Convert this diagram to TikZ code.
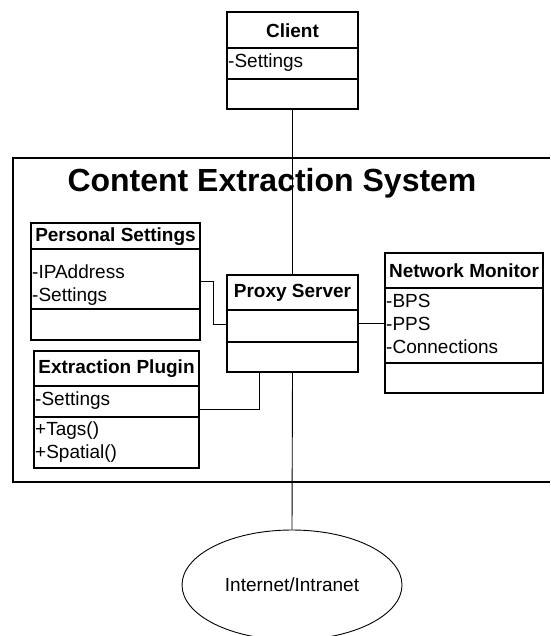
\documentclass[tikz,border=0pt]{standalone}
\usepackage{fontspec}
\setmainfont{Liberation Sans}
\usetikzlibrary{shapes.geometric}
\tikzset{
  box/.style={draw, line width=1.3pt, rectangle, inner sep=0pt},
  divider/.style={line width=1.3pt},
  conn/.style={line width=0.9pt},
  head/.style={inner sep=0pt, anchor=center, font=\bfseries\fontsize{19}{22}\selectfont},
  attr/.style={inner sep=0pt, anchor=base west, font=\fontsize{19}{22}\selectfont},
}
\begin{document}
\begin{tikzpicture}[x=1pt,y=-1pt]
\useasboundingbox (0,0) rectangle (550,636);
% system frame (right side runs off the page)
\draw[line width=1.3pt] (550,158) -- (13,158) -- (13,482) -- (550,482);
\node[inner sep=0pt, anchor=base, font=\bfseries\fontsize{32}{38}\selectfont] (title) at (272,192) {Content Extraction System};

% Client
\node[box, minimum width=131pt, minimum height=97pt] (client) at (292.5,60.5) {};
\draw[divider] (227,48) -- (358,48) (227,79) -- (358,79);
\node[head] (clienth) at (292.5,31) {Client};
\node[attr] (clienta) at (228,68) {-Settings};

% Personal Settings
\node[box, minimum width=169pt, minimum height=117pt] (ps) at (115.5,281.5) {};
\draw[divider] (31,249) -- (200,249) (31,309) -- (200,309);
\node[head] (psh) at (115.5,237) {Personal Settings};
\node[attr] (psa1) at (32,278) {-IPAddress};
\node[attr] (psa2) at (32,301) {-Settings};

% Proxy Server
\node[box, minimum width=131pt, minimum height=97pt] (proxy) at (292.5,323.5) {};
\draw[divider] (227,310) -- (358,310) (227,342) -- (358,342);
\node[head] (proxyh) at (292.5,293) {Proxy Server};

% Extraction Plugin
\node[box, minimum width=165pt, minimum height=117pt] (ep) at (116.5,409.5) {};
\draw[divider] (34,386) -- (199,386) (34,417) -- (199,417);
\node[head] (eph) at (116.5,369) {Extraction Plugin};
\node[attr] (epa1) at (35,405) {-Settings};
\node[attr] (epo1) at (35,435) {+Tags()};
\node[attr] (epo2) at (35,458) {+Spatial()};

% Network Monitor
\node[box, minimum width=158pt, minimum height=140pt] (nm) at (464,323) {};
\draw[divider] (385,288) -- (543,288) (385,363) -- (543,363);
\node[head] (nmh) at (464,271) {Network Monitor};
\node[attr] (nma1) at (386,307) {-BPS};
\node[attr] (nma2) at (386,330) {-PPS};
\node[attr] (nma3) at (386,353) {-Connections};

% Internet (bottom runs off the page)
\node[draw, ellipse, line width=0.9pt, minimum width=220pt, minimum height=110pt, inner sep=0pt,
      font=\fontsize{19}{22}\selectfont] (inet) at (292,585) {Internet/Intranet};

% helper coordinates
\coordinate (y281) at (0,281);
\coordinate (y324) at (0,324);
\coordinate (y323) at (0,323);
\coordinate (y409) at (0,409);
\coordinate (x259) at (259,0);

% connectors
\draw[conn] (client.south) -- (proxy.north);
\draw[conn] (proxy.south) -- (inet.north);
\draw[conn] (ps.east |- y281) -- ++(13,0) |- (proxy.west |- y324);
\draw[conn] (proxy.east |- y323) -- (nm.west |- y323);
\draw[conn] (ep.east |- y409) -| (proxy.south -| x259);
\end{tikzpicture}
\end{document}
